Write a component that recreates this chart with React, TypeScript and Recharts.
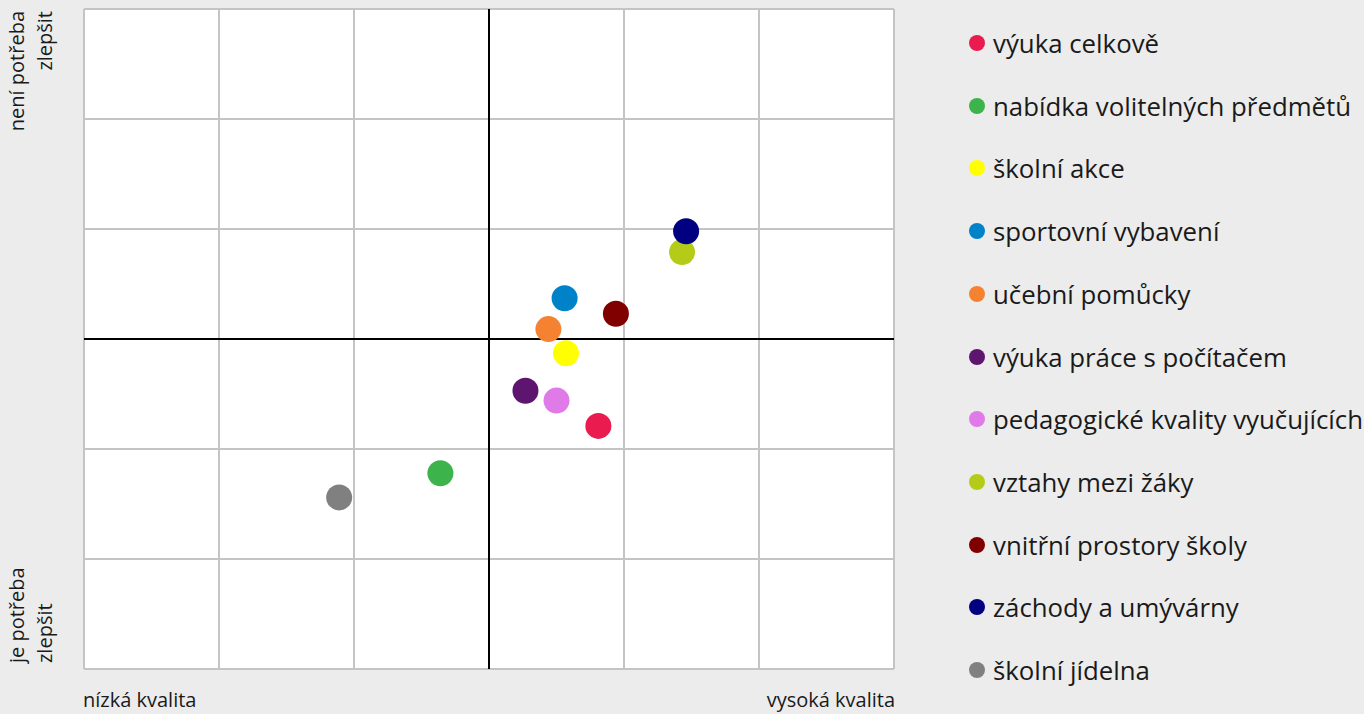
import { ScatterChart, Scatter, XAxis, YAxis, CartesianGrid, ReferenceLine } from "recharts";

const names = [
  "výuka celkově",
  "nabídka volitelných předmětů",
  "školní akce",
  "sportovní vybavení",
  "učební pomůcky",
  "výuka práce s počítačem",
  "pedagogické kvality vyučujících",
  "vztahy mezi žáky",
  "vnitřní prostory školy",
  "záchody a umývárny",
  "školní jídelna",
];
const xs = [0.81, -0.36, 0.57, 0.56, 0.44, 0.27, 0.5, 1.43, 0.94, 1.46, -1.11];
const ys = [-0.79, -1.22, -0.13, 0.37, 0.09, -0.47, -0.56, 0.79, 0.23, 0.98, -1.44];
const colors = [
  "#e91b4f", "#3cb44b", "#ffff00", "#0082c8", "#f58231", "#5e1570",
  "#e07ae8", "#b4cc18", "#800000", "#000080", "#808080",
];
const ticks = [-3, -2, -1, 0, 1, 2, 3];

const font = "'Open Sans', 'Noto Sans', sans-serif";

const Dot = (props: any) => <circle cx={props.cx} cy={props.cy} r={13} fill={props.fill} />;

export default function App() {
  return (
    <div style={{ position: "fixed", left: 0, top: 0, width: 1364, height: 714, background: "#ececec", fontFamily: font, color: "#1a1a1a" }}>
      <ScatterChart width={1364} height={714} margin={{ left: 84, right: 470, top: 9, bottom: 45 }}>
        <CartesianGrid fill="#ffffff" stroke="#c4c4c4" strokeWidth={2} />
        <XAxis type="number" dataKey="x" domain={[-3, 3]} ticks={ticks} hide />
        <YAxis type="number" dataKey="y" domain={[-3, 3]} ticks={ticks} hide />
        <ReferenceLine x={0} stroke="#000" strokeWidth={2} />
        <ReferenceLine y={0} stroke="#000" strokeWidth={2} />
        {names.map((n, i) => (
          <Scatter key={n} name={n} data={[{ x: xs[i], y: ys[i] }]} fill={colors[i]} shape={Dot} isAnimationActive={false} />
        ))}
      </ScatterChart>
      <div style={{ position: "absolute", left: 969, top: 43 }}>
        {names.map((n, i) => (
          <div key={n} style={{ position: "absolute", left: 0, top: i * 62.7 - 18, whiteSpace: "nowrap", display: "flex", alignItems: "center", fontSize: 25.8, lineHeight: "36px" }}>
            <span style={{ display: "inline-block", width: 16, height: 16, borderRadius: 8, background: colors[i], marginRight: 8 }} />
            {n}
          </div>
        ))}
      </div>
      <div style={{ position: "absolute", left: 3, top: 11, width: 130, height: 58, transformOrigin: "0 0", transform: "rotate(-90deg) translate(-130px, 0)", textAlign: "right", fontSize: 20, lineHeight: "28px" }}>
        není potřeba<br />zlepšit
      </div>
      <div style={{ position: "absolute", left: 3, top: 663, width: 130, height: 58, transformOrigin: "0 0", transform: "rotate(-90deg)", textAlign: "left", fontSize: 20, lineHeight: "28px" }}>
        je potřeba<br />zlepšit
      </div>
      <div style={{ position: "absolute", left: 83, top: 686, fontSize: 20, lineHeight: "28px" }}>nízká kvalita</div>
      <div style={{ position: "absolute", right: 1364 - 895, top: 686, fontSize: 20, lineHeight: "28px" }}>vysoká kvalita</div>
    </div>
  );
}
